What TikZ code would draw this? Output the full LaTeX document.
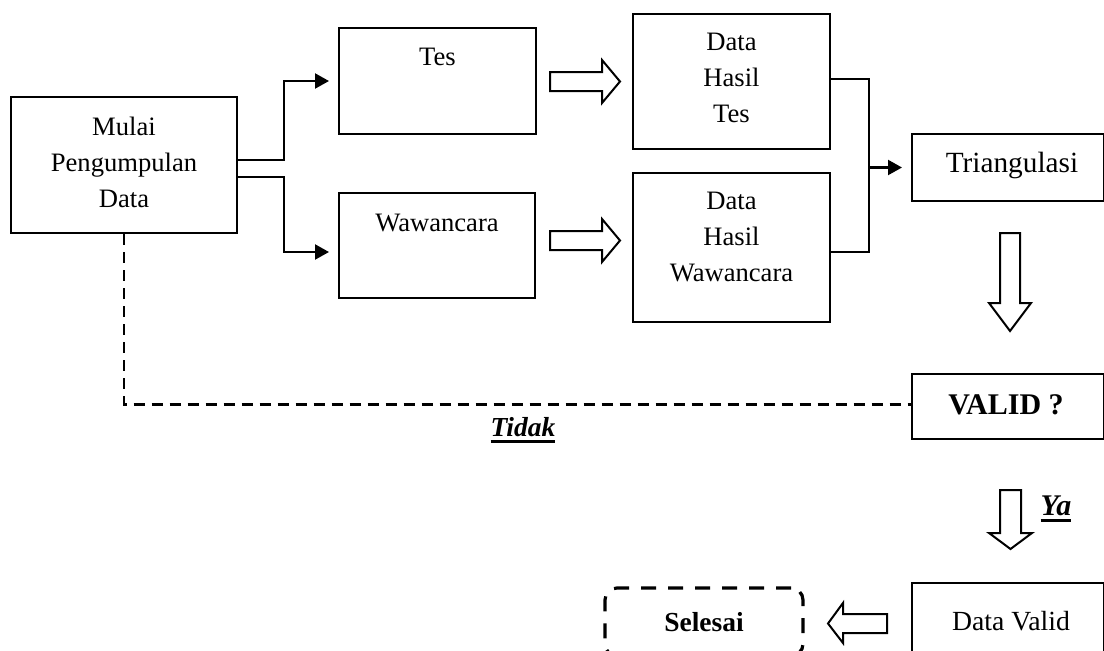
\documentclass[tikz,border=0pt]{standalone}
\usepackage{fontspec}
\setmainfont{Liberation Serif}
\newcommand\mythickul[1]{\setbox0\hbox{#1}\leavevmode\rlap{\rule[-6pt]{\wd0}{2.8pt}}\box0}
\usetikzlibrary{arrows.meta}
\begin{document}
\begin{tikzpicture}[x=1pt,y=-1pt,
  box/.style={draw,line width=2pt,inner sep=0pt},
  txt/.style={font=\fontsize{26.6}{36}\selectfont,align=center,inner sep=0pt},
  conn/.style={line width=2.2pt,-{Triangle[length=14pt,width=15pt]},shorten >=9pt},
  plain/.style={line width=2pt},
  dashline/.style={line width=2.2pt,dash pattern=on 11pt off 7pt},
  harrow/.style={draw,line width=2pt,fill=white,line join=miter}]
\useasboundingbox (0,0) rectangle (1104,651);
\clip (0,0) rectangle (1104,651);
% boxes
\node[box,minimum width=226pt,minimum height=136pt] (mulai) at (124,165) {};
\node[txt] (mulaitxt) at (124,162) {Mulai\\Pengumpulan\\Data};
\node[box,minimum width=197pt,minimum height=106pt] (tes) at (437.5,81) {};
\node[txt] (testxt) at (437.5,57) {Tes};
\node[box,minimum width=196pt,minimum height=105pt] (waw) at (437,245.5) {};
\node[txt] (wawtxt) at (437,223) {Wawancara};
\node[box,minimum width=197pt,minimum height=135pt] (dht) at (731.5,81.5) {};
\node[txt] (dhttxt) at (731.5,78) {Data\\Hasil\\Tes};
\node[box,minimum width=197pt,minimum height=149pt] (dhw) at (731.5,247.5) {};
\node[txt] (dhwtxt) at (731.5,237) {Data\\Hasil\\Wawancara};
\node[box,minimum width=192pt,minimum height=67pt] (tri) at (1008,167.5) {};
\node[txt,font=\fontsize{29.3}{36}\selectfont] (tritxt) at (1012,165) {Triangulasi};
\node[box,minimum width=192pt,minimum height=65pt] (valid) at (1008,406.5) {};
\node[txt,font=\fontsize{30}{36}\selectfont] (validtxt) at (1006,405) {\textbf{VALID ?}};
\node[box,minimum width=192pt,minimum height=78pt] (dv) at (1008,622) {};
\node[txt,font=\fontsize{27.7}{36}\selectfont] (dvtxt) at (1011,621) {Data Valid};
\node[box,line width=3.2pt,dash pattern=on 15pt off 12pt,rounded corners=12pt,minimum width=198pt,minimum height=68pt] (sel) at (704,622) {};
\node[txt,font=\fontsize{27.5}{36}\selectfont] (seltxt) at (704,622) {\textbf{Selesai}};
% connectors
\draw[conn] ([yshift=5pt]mulai.east) -- ++(46,0) |- (tes.west);
\draw[conn] ([yshift=-12pt]mulai.east) -- ++(46,0) |- ([yshift=-6.5pt]waw.west);
\draw[plain] ([yshift=2.5pt]dht.east) -- ++(38,0) |- ([yshift=-4.5pt]dht.east |- dhw.east);
\coordinate (j) at (868,167.5);
\draw[conn] (j) -- (tri.west);
\draw[dashline] (mulai.south) |- ([yshift=2pt]valid.west);
\node[txt,font=\fontsize{27.5}{36}\selectfont] (tidak) at (523,430) {\textbf{\textit{\mythickul{Tidak}}}};
\node[txt,font=\fontsize{30}{36}\selectfont] (ya) at (1056,509) {\textbf{\textit{\mythickul{Ya}}}};
% hollow arrows
\path[harrow] (550,72) -- (602,72) -- (602,60) -- (620,81.5) -- (602,103) -- (602,91) -- (550,91) -- cycle;
\path[harrow] (550,231) -- (602,231) -- (602,219) -- (620,240.5) -- (602,262) -- (602,250) -- (550,250) -- cycle;
\path[harrow] (1000,233) -- (1000,303) -- (989,303) -- (1010,331) -- (1031,303) -- (1020,303) -- (1020,233) -- cycle;
\path[harrow] (1000,490) -- (1000,533) -- (989,533) -- (1010.5,549) -- (1032,533) -- (1021,533) -- (1021,490) -- cycle;
\path[harrow] (887,614) -- (843,614) -- (843,603) -- (828,623.5) -- (843,643) -- (843,633) -- (887,633) -- cycle;
\end{tikzpicture}
\end{document}
